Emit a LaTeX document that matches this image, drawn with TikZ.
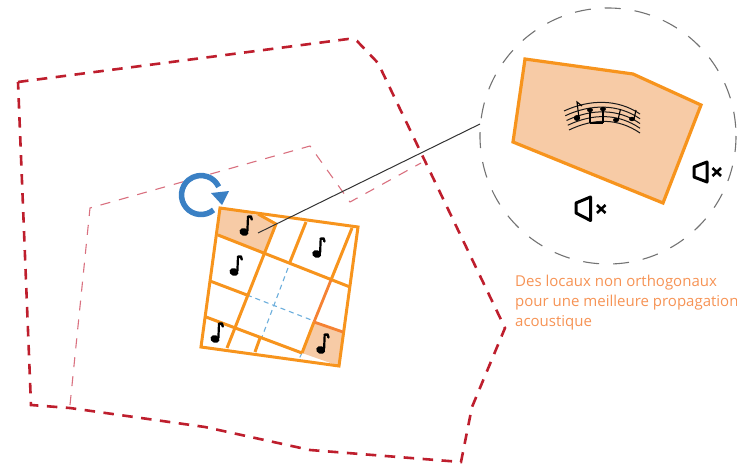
\documentclass[tikz,border=0pt]{standalone}
\usepackage{fontspec}
\setmainfont{Open Sans}
\usetikzlibrary{calc}
\definecolor{roomor}{HTML}{F7941D}
\definecolor{roomdk}{HTML}{F58233}
\definecolor{peach}{HTML}{F7CBA6}
\definecolor{wallred}{HTML}{BE1E2D}
\definecolor{wallpink}{HTML}{D9707F}
\definecolor{rotblue}{HTML}{3A80C4}
\definecolor{dashblue}{HTML}{6CAEDC}
\definecolor{lbl}{HTML}{F69355}
\tikzset{
  outerwall/.style={draw=wallred,line width=2.6pt,dash pattern=on 10.5pt off 8.5pt},
  innerwall/.style={draw=wallpink,line width=1.1pt,dash pattern=on 10pt off 9pt},
  roomline/.style={draw=roomor,line width=3pt,line join=miter},
  roomdark/.style={draw=roomdk,line width=2.8pt},
  axisline/.style={draw=dashblue,line width=1.1pt,dash pattern=on 5pt off 4pt},
  speaker/.style={draw=black,line width=3pt,line join=round},
  mutex/.style={draw=black,line width=2.6pt},
  stave/.style={draw=black!90,line width=1pt},
  notehead/.style={fill=black,draw=none},
  stem/.style={draw=black,line width=1.1pt},
  eighth/.pic={
    \fill[black,rotate=-20] (0,0) ellipse[x radius=4.6,y radius=3.8];
    \draw[black,line width=2.2pt] (3.4,-1) -- (4,-15.5);
    \draw[black,line width=2.4pt,line cap=round] (4,-15.5) .. controls (6.5,-16.5) and (8,-15) .. (7.8,-12.5);
  }
}
\begin{document}
\begin{tikzpicture}[x=1pt,y=-1pt]
\useasboundingbox (0,0) rectangle (737,469);
% outer and inner walls
\draw[outerwall] (18,82) -- (348,39) -- (357,41) -- (378,63) -- (505,328) -- (472,407) -- (461,462) -- (310,450) -- (205,427) -- (70,408) -- (31,405) -- cycle;
\draw[innerwall] (70,405) -- (90,208) -- (310,146) -- (350,202) -- (421,163);
% room fills
\fill[peach] (220,208) -- (262,216) -- (275,225) -- (265,253) -- (218,235) -- cycle;
\fill[peach] (314,322) -- (343,332) -- (339,366) -- (302,353) -- cycle;
% axes
\draw[axisline] (288,268) -- (262,337);
\draw[axisline] (247,295) -- (314,321);
\draw[axisline] (302,353) -- (299,359);
% room
\coordinate (ra) at (220,208);
\coordinate (rb) at (358,227);
\coordinate (rc) at (339,366);
\coordinate (rd) at (201,347);
\draw[roomline] (ra) -- (rb) -- (rc) -- (rd) -- cycle;
\draw[roomline] (218,235) -- (350,287);
\draw[roomline] (258,214) -- (276,224) -- (227,348);
\draw[roomline] (306,222) -- (290,262);
\draw[roomline] (352,228) -- (331,280);
\draw[roomdark] (331,280) -- (314,322);
\draw[roomline] (314,322) -- (302,353);
\draw[roomline] (210,281) -- (247,295);
\draw[roomline] (206,317) -- (302,353);
\draw[roomdark] (314,322) -- (343,332);
\draw[roomline] (260,338) -- (255,352);
% notes
\pic at (244,232) {eighth};
\pic at (316.7,254) {eighth};
\pic at (234,272) {eighth};
\pic at (215,339) {eighth};
\pic at (320.7,350) {eighth};
% rotation arrow
\coordinate (rotc) at (201,195);
\draw[rotblue,line width=5.5pt] ($(rotc)+(50:19.5)$) arc[start angle=50,end angle=335,radius=19.5];
\fill[rotblue] (211,193) -- (229,191) -- (222,205) -- cycle;
% magnifier
\coordinate (mag) at (608,136);
\draw[draw=black!55,line width=1.1pt,dash pattern=on 16pt off 14pt] (mag) circle[radius=128];
\coordinate (lead0) at (258,233);
\coordinate (lead1) at (480,124);
\draw[draw=black!80,line width=1pt] (lead0) -- (lead1);
\filldraw[fill=peach,roomline,line width=3.2pt] (525,59) -- (633,74) -- (701,105) -- (663,203) -- (513,142) -- cycle;
% stave
\foreach \i in {0,1,2,3,4}{
  \draw[stave] ({564+\i*1.25},{111+\i*4.75}) .. controls ({590+\i},{99+\i*4.75}) and ({618},{99+\i*4.75}) .. ({640},{114+\i*4.75});
}
\fill[notehead] (577,118) ellipse[x radius=3.2,y radius=3];
\fill[notehead] (590,110) ellipse[x radius=3,y radius=2.2];
\fill[notehead] (603,109) ellipse[x radius=3,y radius=2.2];
\fill[notehead] (616,120) ellipse[x radius=3,y radius=2.2];
\fill[notehead] (632,119) ellipse[x radius=3,y radius=2.2];
\draw[stem] (579,118) -- (577,102) -- (582,106);
\draw[stem] (590,110) -- (590,123);
\draw[stem] (603,109) -- (603,123);
\draw[draw=black,line width=2.4pt] (590,123) -- (603,123);
\draw[stem] (618,120) -- (620.5,109);
\draw[stem] (634,119) -- (636,110);
% speakers
\draw[speaker] (576,203) -- (590.5,197) -- (590.5,220.5) -- (576,213) -- cycle;
\draw[mutex] (597,205) -- (605.5,213) (605.5,205) -- (597,213);
\draw[speaker] (694,167) -- (707,162) -- (707,182) -- (694,177) -- cycle;
\draw[mutex] (712.5,168) -- (721,176) (721,168) -- (712.5,176);
% caption
\node[anchor=north west,inner sep=0pt,text=lbl,align=left,font=\fontsize{15}{20}\selectfont] (cap) at (515,274.6) {Des locaux non orthogonaux\\pour une meilleure propagation\\acoustique};
\end{tikzpicture}
\end{document}
